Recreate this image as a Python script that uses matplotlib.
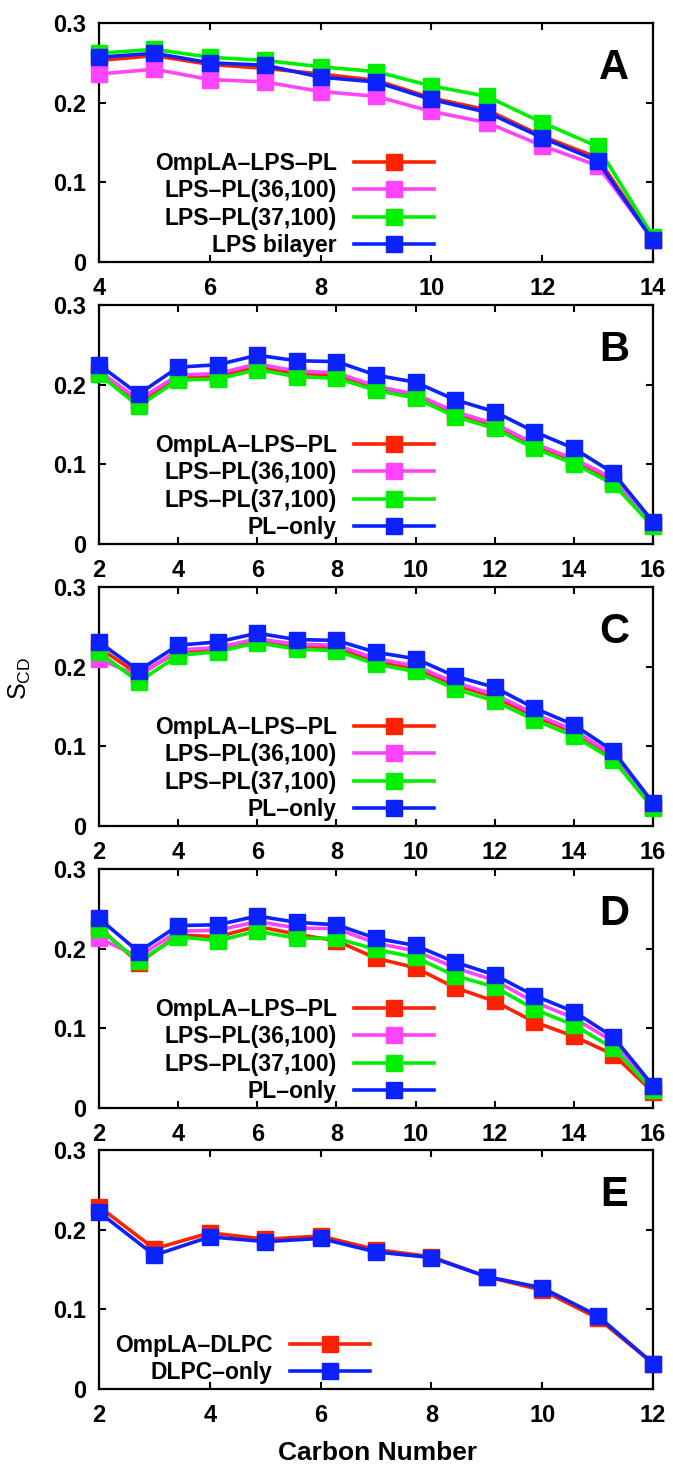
import numpy as np
import matplotlib
matplotlib.use('Agg')
import matplotlib.pyplot as plt
from matplotlib.ticker import FuncFormatter

plt.rcParams['font.family'] = ['Liberation Sans', 'DejaVu Sans']
plt.rcParams['mathtext.fontset'] = 'custom'
plt.rcParams['mathtext.rm'] = 'Liberation Sans'
plt.rcParams['mathtext.it'] = 'Liberation Sans'

# ---- data ----
x_a = np.arange(4, 15)
a_ompla = [0.253, 0.259, 0.248, 0.243, 0.236, 0.228, 0.206, 0.191, 0.158, 0.131, 0.028]
a_lps36 = [0.236, 0.242, 0.229, 0.226, 0.214, 0.208, 0.189, 0.175, 0.146, 0.121, 0.028]
a_lps37 = [0.262, 0.267, 0.257, 0.253, 0.245, 0.239, 0.221, 0.208, 0.175, 0.145, 0.032]
a_bilayer = [0.257, 0.262, 0.250, 0.247, 0.232, 0.226, 0.204, 0.188, 0.156, 0.127, 0.027]

x_b = np.arange(2, 17)
b_ompla = [0.215, 0.178, 0.209, 0.211, 0.222, 0.214, 0.212, 0.196, 0.186, 0.164, 0.148, 0.123, 0.104, 0.079, 0.024]
b_lps36 = [0.217, 0.181, 0.212, 0.214, 0.226, 0.217, 0.215, 0.198, 0.188, 0.166, 0.151, 0.126, 0.107, 0.082, 0.025]
b_lps37 = [0.213, 0.173, 0.206, 0.207, 0.219, 0.210, 0.208, 0.193, 0.183, 0.160, 0.145, 0.120, 0.101, 0.075, 0.022]
b_plonly = [0.225, 0.188, 0.222, 0.225, 0.237, 0.230, 0.229, 0.212, 0.203, 0.181, 0.166, 0.141, 0.120, 0.089, 0.028]

x_c = np.arange(2, 17)
c_ompla = [0.224, 0.190, 0.219, 0.222, 0.233, 0.225, 0.224, 0.207, 0.198, 0.177, 0.162, 0.138, 0.118, 0.087, 0.024]
c_lps36 = [0.210, 0.188, 0.221, 0.224, 0.235, 0.228, 0.227, 0.210, 0.201, 0.180, 0.165, 0.141, 0.120, 0.089, 0.025]
c_lps37 = [0.218, 0.181, 0.214, 0.219, 0.230, 0.222, 0.220, 0.203, 0.194, 0.172, 0.157, 0.133, 0.113, 0.083, 0.022]
c_plonly = [0.231, 0.195, 0.227, 0.231, 0.242, 0.234, 0.233, 0.218, 0.210, 0.188, 0.174, 0.148, 0.127, 0.094, 0.029]

x_d = np.arange(2, 17)
d_ompla = [0.227, 0.182, 0.217, 0.215, 0.228, 0.218, 0.210, 0.188, 0.176, 0.151, 0.134, 0.108, 0.090, 0.067, 0.020]
d_lps36 = [0.213, 0.190, 0.222, 0.223, 0.234, 0.226, 0.225, 0.207, 0.197, 0.176, 0.160, 0.133, 0.113, 0.083, 0.025]
d_lps37 = [0.225, 0.184, 0.215, 0.210, 0.222, 0.213, 0.213, 0.199, 0.189, 0.166, 0.152, 0.124, 0.104, 0.075, 0.022]
d_plonly = [0.238, 0.196, 0.229, 0.230, 0.241, 0.233, 0.230, 0.213, 0.204, 0.183, 0.167, 0.141, 0.121, 0.089, 0.028]

x_e = np.arange(2, 13)
e_ompla = [0.229, 0.176, 0.196, 0.188, 0.192, 0.175, 0.166, 0.141, 0.124, 0.089, 0.032]
e_dlpc = [0.222, 0.168, 0.191, 0.185, 0.189, 0.172, 0.165, 0.141, 0.127, 0.092, 0.032]

RED, PINK, GREEN, BLUE = '#ff2200', '#ff44ff', '#00ee00', '#0a22ff'

panels = [
    ('A', x_a, [('OmpLA\u2013LPS\u2013PL', a_ompla, RED), ('LPS\u2013PL(36,100)', a_lps36, PINK),
                ('LPS\u2013PL(37,100)', a_lps37, GREEN), ('LPS bilayer', a_bilayer, BLUE)]),
    ('B', x_b, [('OmpLA\u2013LPS\u2013PL', b_ompla, RED), ('LPS\u2013PL(36,100)', b_lps36, PINK),
                ('LPS\u2013PL(37,100)', b_lps37, GREEN), ('PL\u2013only', b_plonly, BLUE)]),
    ('C', x_c, [('OmpLA\u2013LPS\u2013PL', c_ompla, RED), ('LPS\u2013PL(36,100)', c_lps36, PINK),
                ('LPS\u2013PL(37,100)', c_lps37, GREEN), ('PL\u2013only', c_plonly, BLUE)]),
    ('D', x_d, [('OmpLA\u2013LPS\u2013PL', d_ompla, RED), ('LPS\u2013PL(36,100)', d_lps36, PINK),
                ('LPS\u2013PL(37,100)', d_lps37, GREEN), ('PL\u2013only', d_plonly, BLUE)]),
    ('E', x_e, [('OmpLA\u2013DLPC', e_ompla, RED), ('DLPC\u2013only', e_dlpc, BLUE)]),
]

fig = plt.figure(figsize=(6.73, 14.67), dpi=100)
W, H = 673.0, 1467.0
left, right = 99, 653
tops = [23, 305, 587, 869, 1150]
ph = 239

for (letter, xs, series), top in zip(panels, tops):
    ax = fig.add_axes([left / W, 1 - (top + ph) / H, (right - left) / W, ph / H])
    for label, ys, col in series:
        ax.plot(xs, ys, '-s', color=col, lw=2.6, ms=12, label=label, clip_on=False, zorder=3)
    ax.set_xlim(xs[0], xs[-1])
    ax.set_ylim(0, 0.3)
    ax.set_xticks(np.arange(xs[0], xs[-1] + 1, 2))
    ax.set_yticks([0, 0.1, 0.2, 0.3])
    ax.yaxis.set_major_formatter(FuncFormatter(lambda v, p: '0' if v == 0 else '%.1f' % v))
    ax.tick_params(direction='in', top=True, right=True, length=5, width=1.5,
                   labelsize=17, pad=9)
    ax.tick_params(axis='x', pad=11)
    for lab in ax.get_xticklabels() + ax.get_yticklabels():
        lab.set_fontweight('bold')
    for sp in ax.spines.values():
        sp.set_linewidth(1.6)
    ax.text(0.93, 0.81, letter, transform=ax.transAxes, fontsize=30, fontweight='bold',
            ha='center', va='center')
    anchor_x = 0.605 if letter != 'E' else 0.489
    ax.legend(loc='lower right', bbox_to_anchor=(anchor_x, 0.022), frameon=False,
              markerfirst=False, handlelength=3.5, handletextpad=0.75,
              labelspacing=0.18, borderpad=0, borderaxespad=0,
              prop={'size': 16.5, 'weight': 'bold'})

fig.text(20 / W, 1 - 678 / H, r'$\mathrm{S_{CD}}$', rotation=90, fontsize=18,
         ha='center', va='center')
fig.text(378 / W, 1 - 1453 / H, 'Carbon Number', fontsize=19, fontweight='bold',
         ha='center', va='center')

fig.savefig('out.png', dpi=100)
